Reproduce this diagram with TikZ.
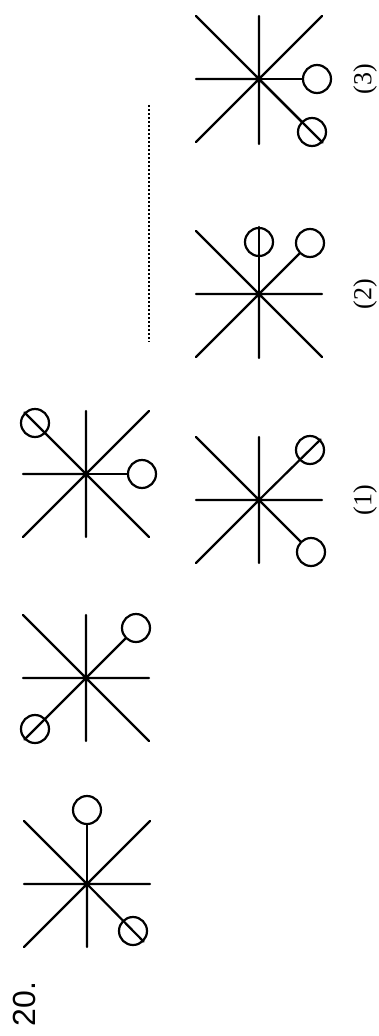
\documentclass[tikz,border=0pt]{standalone}
\usepackage{fontspec}
\setmainfont{Liberation Serif}
\newfontfamily\numfont{Liberation Sans}
\usetikzlibrary{calc}
\begin{document}
\begin{tikzpicture}[x=1pt,y=-1pt,
  arm/.style={line width=2.2pt,line cap=round},
  ring/.style={circle,draw,line width=2.2pt,minimum size=28pt,inner sep=0pt},
  lab/.style={rotate=90,font=\fontsize{26}{30}\selectfont},
  num/.style={rotate=90,anchor=base,font=\numfont\fontsize{32}{36}\selectfont},
  dotline/.style={line width=2.2pt,dash pattern=on 1.8pt off 2.2pt}]
\useasboundingbox (0,0) rectangle (378,1036);
% star centres
\coordinate (s3) at (259,79);
\coordinate (s2) at (259,294);
\coordinate (s1) at (259,500);
\coordinate (sb) at (86,474);
\coordinate (sc) at (86,678);
\coordinate (sa) at (87,884);
% ---- star (3)
\draw[arm] ($(s3)+(-63,0)$) -- (s3) ($(s3)+(0,-63)$) -- ($(s3)+(0,65)$)
  ($(s3)+(-63,-63)$) -- ($(s3)+(63,63)$)
  ($(s3)+(63,-63)$) -- ($(s3)+(-63,63)$);
\node[ring,fill=white] (s3e) at ($(s3)+(58,0)$) {};
\node[ring,fill=white] (s3se) at ($(s3)+(53,53)$) {};
\draw[arm] (s3) -- (s3e);
\draw[arm] (s3) -- (s3se.south east);
% ---- star (2)
\draw[arm] ($(s2)+(-63,0)$) -- ($(s2)+(63,0)$) (s2) -- ($(s2)+(0,64)$)
  ($(s2)+(-63,-63)$) -- ($(s2)+(63,63)$)
  (s2) -- ($(s2)+(-63,63)$);
\node[ring] (s2n) at ($(s2)+(0,-52)$) {};
\node[ring] (s2ne) at ($(s2)+(51,-51)$) {};
\draw[arm] (s2) -- (s2n.north);
\draw[arm] (s2) -- (s2ne);
% ---- star (1)
\draw[arm] ($(s1)+(-63,0)$) -- ($(s1)+(63,0)$) ($(s1)+(0,-63)$) -- ($(s1)+(0,63)$)
  ($(s1)+(-63,-63)$) -- (s1)
  (s1) -- ($(s1)+(-63,63)$);
\node[ring] (s1ne) at ($(s1)+(51,-50)$) {};
\node[ring] (s1se) at ($(s1)+(52,52)$) {};
\draw[arm] (s1) -- (s1ne.north east);
\draw[arm] (s1) -- (s1se);
% ---- left star, top
\draw[arm] ($(sb)+(-63,0)$) -- (sb) ($(sb)+(0,-63)$) -- ($(sb)+(0,63)$)
  ($(sb)+(63,-63)$) -- ($(sb)+(-63,63)$)
  (sb) -- ($(sb)+(63,63)$);
\node[ring] (sbnw) at ($(sb)+(-51,-51)$) {};
\node[ring] (sbe) at ($(sb)+(56,0)$) {};
\draw[arm] (sb) -- (sbnw.north west);
\draw[arm] (sb) -- (sbe);
% ---- left star, middle
\draw[arm] ($(sc)+(-63,0)$) -- ($(sc)+(63,0)$) ($(sc)+(0,-63)$) -- ($(sc)+(0,63)$)
  ($(sc)+(-63,-63)$) -- ($(sc)+(63,63)$);
\node[ring] (scne) at ($(sc)+(50,-50)$) {};
\node[ring] (scsw) at ($(sc)+(-51,51)$) {};
\draw[arm] (sc) -- (scne);
\draw[arm] (sc) -- (scsw.south west);
% ---- left star, bottom
\draw[arm] ($(sa)+(-63,0)$) -- ($(sa)+(63,0)$) (sa) -- ($(sa)+(0,63)$)
  ($(sa)+(-63,-63)$) -- (sa)
  ($(sa)+(63,-63)$) -- ($(sa)+(-63,63)$);
\node[ring] (san) at ($(sa)+(0,-74)$) {};
\node[ring] (sase) at ($(sa)+(46,47)$) {};
\draw[arm] (sa) -- (san);
\draw[arm] (sa) -- (sase.south east);
% ---- dotted line
\coordinate (dtop) at (149,105);
\coordinate (dbot) at (149,342);
\draw[dotline] (dtop) -- (dbot);
% ---- labels
\node[lab] (l3) at (365,79) {(3)};
\node[lab] (l2) at (365,294) {(2)};
\node[lab] (l1) at (365,500) {(1)};
\node[num] (q) at (35,1004) {20.};
\end{tikzpicture}
\end{document}
